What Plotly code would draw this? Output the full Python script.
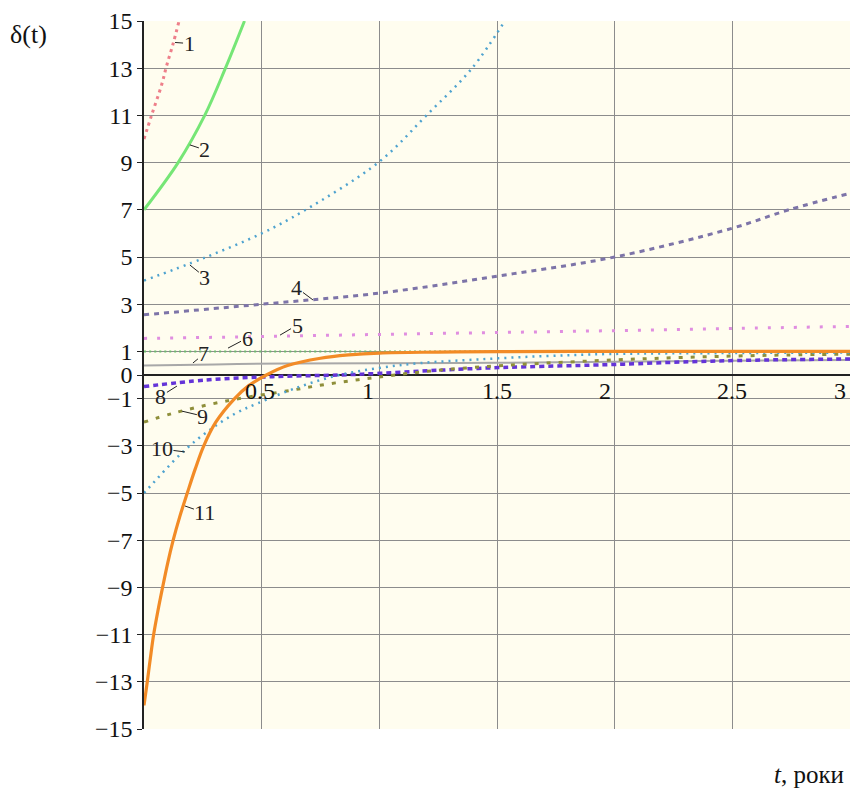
import plotly.graph_objects as go

# ---- data ----
t1 = [0.0, 0.032, 0.075, 0.096, 0.124, 0.149]
d1 = [10.0, 11.0, 12.3, 13.1, 14.05, 15.0]

t2 = [0.0, 0.145, 0.258, 0.346, 0.427]
d2 = [7.0, 9.0, 11.0, 13.0, 15.0]

t3 = [0.0, 0.25, 0.5, 0.673, 1.0, 1.2, 1.394, 1.533]
d3 = [4.0, 4.94, 6.0, 6.92, 9.04, 11.0, 13.0, 15.0]

t4 = [0.0, 0.5, 1.0, 1.5, 2.0, 2.5, 2.74, 3.0]
d4 = [2.55, 3.0, 3.47, 4.19, 5.0, 6.22, 7.0, 7.7]

t5 = [0.0, 0.5, 1.0, 1.5, 2.0, 2.5, 3.0]
d5 = [1.55, 1.63, 1.72, 1.8, 1.88, 1.97, 2.06]

t6 = [0.0, 1.0, 2.0, 3.0]
d6 = [1.0, 1.0, 1.0, 1.0]

t7 = [0.0, 0.3, 0.6, 1.0, 1.5, 2.0, 2.5, 3.0]
d7 = [0.4, 0.45, 0.49, 0.5, 0.52, 0.56, 0.6, 0.64]

t8 = [0.0, 0.265, 0.546, 0.83, 1.0, 1.21, 1.42, 1.63, 1.91, 2.04, 2.32, 2.6, 3.0]
d8 = [-0.49, -0.21, -0.07, 0.0, 0.07, 0.18, 0.28, 0.35, 0.42, 0.46, 0.56, 0.63, 0.68]

t9 = [0.0, 0.124, 0.35, 0.63, 0.77, 0.91, 1.04, 1.25, 1.49, 1.7, 2.0, 2.25, 2.49, 2.73, 3.0]
d9 = [-2.0, -1.62, -1.1, -0.64, -0.4, -0.2, -0.03, 0.2, 0.38, 0.5, 0.64, 0.73, 0.8, 0.85, 0.88]

t10 = [0.0, 0.025, 0.166, 0.279, 0.39, 0.483, 0.66, 0.83, 1.0, 1.17, 1.42, 1.7, 1.98, 2.5, 3.0]
d10 = [-5.0, -4.73, -3.25, -2.33, -1.62, -1.2, -0.5, 0.0, 0.3, 0.5, 0.66, 0.8, 0.89, 0.93, 0.95]

t11 = [0.0, 0.007, 0.014, 0.027, 0.041, 0.059, 0.079, 0.1, 0.124, 0.152, 0.184,
       0.217, 0.254, 0.305, 0.385, 0.445, 0.52, 0.61, 0.75, 0.87, 1.0, 1.25, 1.5,
       2.0, 2.5, 3.0]
d11 = [-14.0, -13.5, -13.0, -12.0, -11.0, -10.0, -9.0, -8.0, -7.0, -6.0, -5.0,
       -4.0, -3.0, -2.0, -1.0, -0.45, 0.0, 0.4, 0.71, 0.85, 0.93, 0.97, 0.99,
       1.0, 1.0, 1.0]

y_ticks = [15, 13, 11, 9, 7, 5, 3, 1, 0, -1, -3, -5, -7, -9, -11, -13, -15]
y_ticktext = [str(v) if v >= 0 else "\u2212" + str(-v) for v in y_ticks]
x_ticks = [0.5, 1, 1.5, 2, 2.5, 3]
x_ticktext = ["0.5", "1", "1.5", "2", "2.5", "3"]

curve_labels = ["1", "2", "3", "4", "5", "6", "7", "8", "9", "10", "11"]

FONT = "Times New Roman, Liberation Serif, Times, serif"

series = [
    (t1, d1, "#EE7F8A", 3, "3px,4px"),
    (t2, d2, "#76E676", 3, "solid"),
    (t3, d3, "#4FA3CF", 2.5, "2px,5px"),
    (t4, d4, "#7D74A8", 3, "5px,5px"),
    (t5, d5, "#E08EE0", 3, "3px,10px"),
    (t6, d6, "#6DBB6D", 2, "2px,3px"),
    (t7, d7, "#A8A8A8", 2, "solid"),
    (t8, d8, "#6434D8", 3.5, "5px,4px"),
    (t9, d9, "#8F8F3A", 3, "4px,8px"),
    (t10, d10, "#4FA3CF", 2.5, "2px,5px"),
    (t11, d11, "#F28B26", 3.2, "solid"),
]

fig = go.Figure()
for (tx, dy, col, w, dash) in series:
    fig.add_trace(go.Scatter(
        x=tx, y=dy, mode="lines",
        line=dict(color=col, width=w, dash=dash, shape="spline", smoothing=1.0),
        showlegend=False, hoverinfo="skip"))

# curve label positions: (point on curve t, value, text offset px)
label_pos = [
    (0.132, 14.09, 14, 1),
    (0.195, 9.75, 15, 5),
    (0.195, 4.66, 15, 12),
    (0.718, 3.18, -16, -12),
    (0.578, 1.69, 17, -10),
    (0.357, 1.14, 19, -10),
    (0.208, 0.51, 11, -9),
    (0.14, -0.47, -16, 10),
    (0.161, -1.53, 21, 5),
    (0.174, -3.26, -23, -3),
    (0.174, -5.55, 20, 7),
]
annotations = []
for lab, (px, py, ax, ay) in zip(curve_labels, label_pos):
    annotations.append(dict(
        x=px, y=py, xref="x", yref="y", text=lab, showarrow=True,
        arrowhead=0, arrowwidth=1, arrowcolor="#222", ax=ax, ay=ay,
        font=dict(family=FONT, size=22, color="#222"), borderpad=0))

# x tick labels sitting under the zero line
x_anchor = ["center", "right", "center", "right", "center", "right"]
x_shift = [-2, -3, 0, -2, 0, -2]
for xv, txt, anc, sh in zip(x_ticks, x_ticktext, x_anchor, x_shift):
    annotations.append(dict(
        x=xv, y=0, xref="x", yref="y", text=txt, showarrow=False,
        xanchor=anc, yanchor="top", xshift=sh, yshift=-1,
        font=dict(family=FONT, size=24, color="#111")))

annotations.append(dict(
    x=(8 - 144) / 706, y=(729 - 35) / 708, xref="paper", yref="paper",
    text="\u03b4(t)", showarrow=False, xanchor="left", yanchor="middle",
    font=dict(family=FONT, size=26, color="#111")))
annotations.append(dict(
    x=(846 - 144) / 706, y=(729 - 774) / 708, xref="paper", yref="paper",
    text="<i>t</i>, роки", showarrow=False, xanchor="right", yanchor="middle",
    font=dict(family=FONT, size=25, color="#111")))

fig.update_layout(
    width=850, height=789,
    margin=dict(l=144, r=0, t=21, b=60),
    paper_bgcolor="white",
    plot_bgcolor="#FFFDEF",
    annotations=annotations,
    xaxis=dict(range=[0, 3], tickvals=x_ticks, showticklabels=False,
               showgrid=True, gridcolor="#8C8C8C", gridwidth=1,
               zeroline=False, showline=False, ticks=""),
    yaxis=dict(range=[-15, 15], tickvals=y_ticks, ticktext=y_ticktext,
               showgrid=True, gridcolor="#8C8C8C", gridwidth=1,
               zeroline=True, zerolinecolor="#222", zerolinewidth=1.5,
               showline=True, linecolor="#222", linewidth=1.5,
               ticks="outside", ticklen=5, tickcolor="#222",
               tickfont=dict(family=FONT, size=24, color="#111")),
)

fig.write_html("out.html")
